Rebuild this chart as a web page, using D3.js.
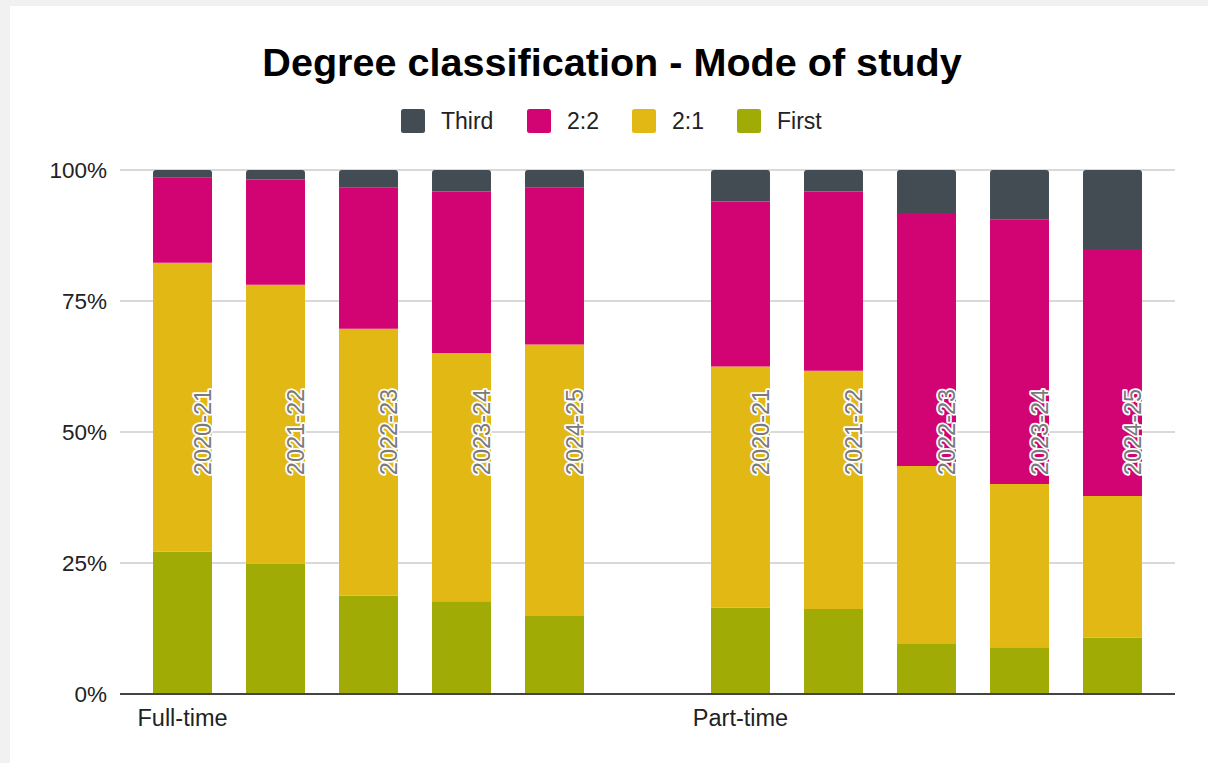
<!DOCTYPE html>
<html>
<head>
<meta charset="utf-8">
<script src="https://cdn.jsdelivr.net/npm/d3@7"></script>
<style>
  html, body { margin: 0; padding: 0; background: #f1f1f1; }
  svg { display: block; }
  text { font-family: "Liberation Sans", Arial, sans-serif; }
</style>
</head>
<body>
<script>
// ---- Data ----
const title = "Degree classification - Mode of study";
const modes = ["Full-time", "Part-time"];
const years = ["2020-21", "2021-22", "2022-23", "2023-24", "2024-25"];
const seriesNames = ["First", "2:1", "2:2", "Third"];      // bottom to top
const legendOrder = ["Third", "2:2", "2:1", "First"];
const seriesColors = ["#a0ab05", "#e2b914", "#d20373", "#434b53"];
const yTicks = [0, 25, 50, 75, 100];

// percentages per mode, per year
const firstFT = [27.2, 24.9, 18.8, 17.7, 14.9];
const twoOneFT = [55.1, 53.2, 50.9, 47.4, 51.8];
const twoTwoFT = [16.3, 20.1, 27.0, 30.8, 30.0];
const thirdFT = [1.4, 1.8, 3.3, 4.1, 3.3];

const firstPT = [16.5, 16.2, 9.7, 8.9, 10.8];
const twoOnePT = [46.0, 45.5, 33.8, 31.2, 27.0];
const twoTwoPT = [31.5, 34.2, 48.3, 50.5, 47.1];
const thirdPT = [6.0, 4.1, 8.2, 9.4, 15.1];

// ---- Build rows ----
const valuesByMode = {
  "Full-time": [firstFT, twoOneFT, twoTwoFT, thirdFT],
  "Part-time": [firstPT, twoOnePT, twoTwoPT, thirdPT]
};
const rows = [];
const slots = [];
modes.forEach((m, mi) => {
  years.forEach((y, yi) => {
    const key = m + "|" + y;
    slots.push(key);
    const r = { key, mode: m, year: y, first: yi === 0 };
    seriesNames.forEach((s, si) => { r[s] = valuesByMode[m][si][yi]; });
    rows.push(r);
  });
  if (mi < modes.length - 1) slots.push("gap" + mi);
});

// ---- Layout ----
const W = 1208, H = 763;
const svg = d3.select("body").append("svg").attr("width", W).attr("height", H);
svg.append("rect").attr("x", 10).attr("y", 6).attr("width", W - 10).attr("height", H - 6).attr("fill", "#fff");

const plotL = 120, plotR = 1175, plotT = 170, plotB = 694;

const x = d3.scaleBand().domain(slots).range([136, 1159]).paddingInner(0.366).paddingOuter(0.183);
const y = d3.scaleLinear().domain([0, 100]).range([plotB, plotT]);

// title
svg.append("text").attr("x", 612).attr("y", 76).attr("text-anchor", "middle")
  .attr("font-size", 39.6).attr("font-weight", "bold").attr("fill", "#000").text(title);

// legend
const legendX = [401, 527, 632, 737];
const lg = svg.append("g");
legendOrder.forEach((name, i) => {
  const c = seriesColors[seriesNames.indexOf(name)];
  lg.append("rect").attr("x", legendX[i]).attr("y", 109).attr("width", 24).attr("height", 24)
    .attr("rx", 2.5).attr("fill", c);
  lg.append("text").attr("x", legendX[i] + 40).attr("y", 129).attr("font-size", 23)
    .attr("fill", "#222").text(name);
});

// gridlines + y labels
const gy = svg.append("g");
yTicks.forEach(t => {
  if (t !== 0) {
    gy.append("line").attr("x1", plotL).attr("x2", plotR).attr("y1", y(t)).attr("y2", y(t))
      .attr("stroke", "#cccccc").attr("stroke-width", 1.5);
  }
  gy.append("text").attr("x", 107).attr("y", y(t)).attr("dy", "0.36em")
    .attr("text-anchor", "end").attr("font-size", 22.5).attr("fill", "#222").text(t + "%");
});

// stacked bars
const stack = d3.stack().keys(seriesNames)(rows);
const bw = x.bandwidth();
const rr = 3;
const barG = svg.append("g");
stack.forEach((layer, li) => {
  barG.selectAll(null).data(layer).enter().append("path")
    .attr("fill", seriesColors[li])
    .attr("d", d => {
      const x0 = x(d.data.key), x1 = x0 + bw;
      const yTop = y(d[1]), yBot = y(d[0]);
      if (li === seriesNames.length - 1) {
        return `M${x0},${yBot} L${x0},${yTop + rr} Q${x0},${yTop} ${x0 + rr},${yTop} L${x1 - rr},${yTop} Q${x1},${yTop} ${x1},${yTop + rr} L${x1},${yBot} Z`;
      }
      return `M${x0},${yBot} L${x0},${yTop} L${x1},${yTop} L${x1},${yBot} Z`;
    });
});

// baseline
svg.append("line").attr("x1", plotL).attr("x2", plotR).attr("y1", plotB).attr("y2", plotB)
  .attr("stroke", "#444", ).attr("stroke-width", 2);

// year annotations (rotated)
svg.append("g").selectAll("text").data(rows).enter().append("text")
  .attr("transform", d => `translate(${x(d.key) + bw - 0.5},${y(50)}) rotate(-90)`)
  .attr("text-anchor", "middle")
  .attr("font-size", 23.5)
  .attr("fill", "#7a7a7a")
  .attr("stroke", "#fff").attr("stroke-width", 3.5).attr("stroke-linejoin", "round")
  .attr("paint-order", "stroke")
  .text(d => d.year);

// x category labels
svg.append("g").selectAll("text").data(rows.filter(r => r.first)).enter().append("text")
  .attr("x", d => x(d.key) + bw / 2).attr("y", 726)
  .attr("text-anchor", "middle").attr("font-size", 23.5).attr("fill", "#222")
  .text(d => d.mode);
</script>
</body>
</html>
